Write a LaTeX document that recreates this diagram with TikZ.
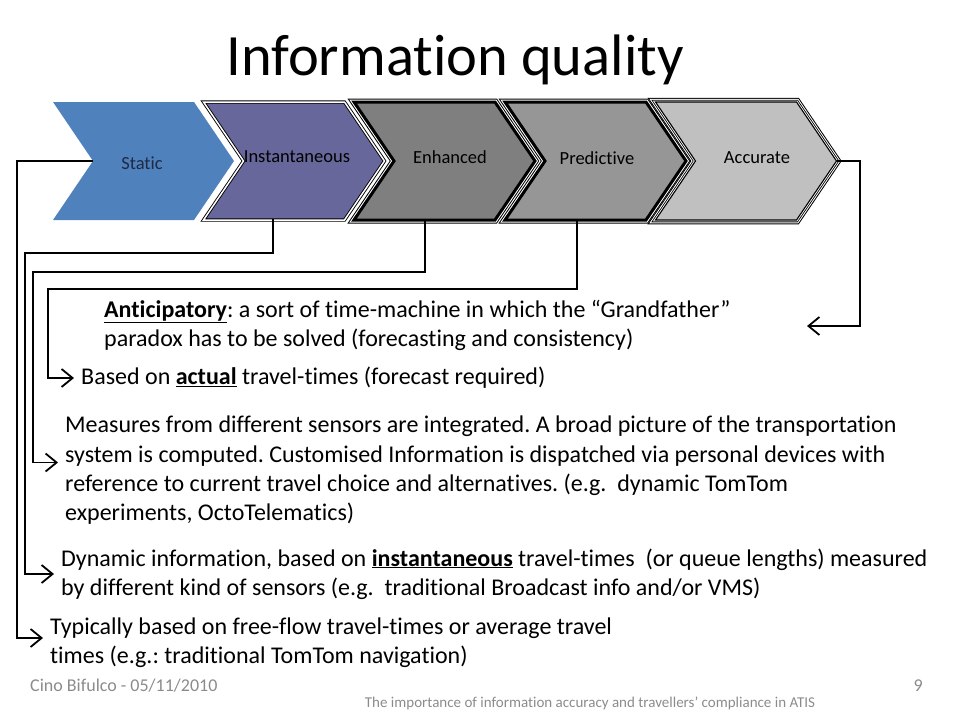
\documentclass[tikz,border=0pt]{standalone}
\usepackage{fontspec}
\setmainfont{Carlito}[Ligatures=NoCommon]
\usetikzlibrary{arrows.meta}
\definecolor{cstatic}{HTML}{4F81BD}
\definecolor{cinst}{HTML}{67679B}
\definecolor{cenh}{HTML}{7F7F7F}
\definecolor{cpred}{HTML}{969696}
\definecolor{cacc}{HTML}{C0C0C0}
\definecolor{footgray}{HTML}{8B8B8B}
\definecolor{statictext}{HTML}{1F2A44}
\frenchspacing
\begin{document}
\begin{tikzpicture}[x=1pt,y=-1pt,
  chev/.style={insert path={(#1,102) -- ++(141,0) -- ++(40,59) -- ++(-40,59) -- ++(-141,0) -- ++(40,-59) -- cycle}},
  conn/.style={line width=1.8pt, -{Straight Barb[length=11pt,width=18pt,line width=1.8pt]}, shorten >=7pt},
  body/.style={font=\fontsize{24}{29.3}\selectfont, align=left, inner sep=0pt, anchor=west},
  lab/.style={font=\fontsize{18.5}{22}\selectfont, inner sep=0pt},
  foot/.style={text=footgray, inner sep=0pt}]
\useasboundingbox (0,0) rectangle (960,720);

% title
\node[font=\fontsize{58.5}{70}\selectfont, anchor=base] (title) at (455,75) {Information quality};

% Static
\fill[cstatic][chev=53];
% Instantaneous
\fill[cinst][chev=203.5];
\draw[black, line width=0.9pt, double=white, double distance=1.5pt][chev=203.5];
% Enhanced
\draw[black, line width=7pt][chev=354];
\draw[white, line width=5pt][chev=354];
\fill[cenh][chev=354];
\draw[black, line width=3pt][chev=354];
% Predictive
\draw[black, line width=7pt][chev=505];
\draw[white, line width=5pt][chev=505];
\fill[cpred][chev=505];
\draw[black, line width=3pt][chev=505];
% Accurate
\draw[black, line width=8.5pt][chev=655.5];
\draw[white, line width=6.5pt][chev=655.5];
\draw[black, line width=4.5pt][chev=655.5];
\draw[white, line width=2.8pt][chev=655.5];
\fill[cacc][chev=655.5];
\draw[black, line width=1.1pt][chev=655.5];

% chevron labels
\node[lab, text=statictext] (lstat) at (142,163) {Static};
\node[lab] (linst) at (297,157) {Instantaneous};
\node[lab] (lenh) at (450,157) {Enhanced};
\node[lab] (lpred) at (597,158) {Predictive};
\node[lab] (lacc) at (757,158) {Accurate};

% attachment points
\coordinate (pstat) at (93,161);
\coordinate (pinst) at (273,219);
\coordinate (penh) at (425,221);
\coordinate (ppred) at (577,221);
\coordinate (pacc) at (837,161);
\coordinate (accend) at (807,326);

% texts
\node[body] (antic) at (104,325.5) {\underline{\textbf{Anticipatory}}: a sort of time-machine in which the “Grandfather”\\paradox has to be solved (forecasting and consistency)};
\node[body] (based) at (81,378) {Based on \underline{\textbf{actual}} travel-times (forecast required)};
\node[body] (meas) at (65,470.5) {Measures from different sensors are integrated. A broad picture of the transportation\\system is computed. Customised Information is dispatched via personal devices with\\reference to current travel choice and alternatives. (e.g.~ dynamic TomTom\\experiments, OctoTelematics)};
\node[body] (dyn) at (61,574) {Dynamic information, based on \underline{\textbf{instantaneous}} travel-times~ (or queue lengths) measured\\by different kind of sensors (e.g.~ traditional Broadcast info and/or VMS)};
\node[body] (typ) at (50,642.5) {Typically based on free-flow travel-times or average travel\\times (e.g.: traditional TomTom navigation)};

% connectors
\draw[conn] (pstat) -- ++(-76,0) |- ([yshift=4.5pt]typ.west);
\draw[conn] (pinst) -- ++(0,34) -- ++(-248,0) |- (dyn.west);
\draw[conn] (penh) -- ++(0,51) -- ++(-392,0) |- ([yshift=8pt]meas.west);
\draw[conn] (ppred) -- ++(0,68) -- ++(-529,0) |- (based.west);
\draw[conn, shorten >=0pt] (pacc) -- ++(23,0) |- (accend);

% footer
\node[foot, font=\fontsize{18}{21}\selectfont, anchor=west] (cino) at (30,686) {Cino Bifulco - 05/11/2010};
\node[foot, font=\fontsize{18}{21}\selectfont, anchor=east] (pnum) at (923,686) {9};
\node[foot, font=\fontsize{15}{18}\selectfont] (subt) at (590,703) {The importance of information accuracy and travellers’ compliance in ATIS};
\end{tikzpicture}
\end{document}
